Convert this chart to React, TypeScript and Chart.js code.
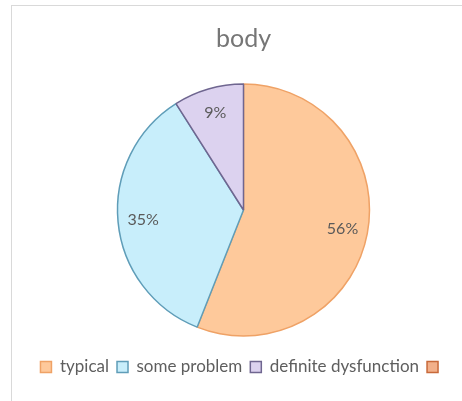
import React, { useEffect, useRef } from "react";
import { Chart, registerables } from "chart.js";

Chart.register(...registerables);

const categories: string[] = ["typical", "some problem", "definite dysfunction", ""];
const values: number[] = [56, 35, 9, 0];
const titleText = "body";

const fillColors = ["#FEC99B", "#C8EEFB", "#DCD2EF", "#F2B08A"];
const borderColors = ["#EFA266", "#5F9DB8", "#6F6690", "#C8693A"];

const pctPlugin = {
  id: "pctLabels",
  afterDatasetsDraw(chart: any) {
    const ctx = chart.ctx;
    const meta = chart.getDatasetMeta(0);
    const data = chart.data.datasets[0].data as number[];
    const total = data.reduce((a, b) => a + b, 0);
    ctx.save();
    ctx.font = "16px Lato";
    ctx.fillStyle = "#5a5a5a";
    ctx.textAlign = "center";
    ctx.textBaseline = "middle";
    meta.data.forEach((arc: any, i: number) => {
      const v = data[i];
      if (!v) return;
      const p = arc.getProps(["x", "y", "startAngle", "endAngle", "outerRadius"], true);
      const mid = (p.startAngle + p.endAngle) / 2;
      const r = p.outerRadius * 0.8;
      ctx.fillText(Math.round((v / total) * 100) + "%", p.x + Math.cos(mid) * r, p.y + Math.sin(mid) * r);
    });
    ctx.restore();
  },
};

export default function App() {
  const ref = useRef<HTMLCanvasElement | null>(null);
  useEffect(() => {
    if (!ref.current) return;
    const chart = new Chart(ref.current, {
      type: "pie",
      data: {
        labels: categories,
        datasets: [
          {
            data: values,
            backgroundColor: fillColors,
            borderColor: borderColors,
            borderWidth: 1.5,
            radius: 126,
          } as any,
        ],
      },
      options: {
        animation: false,
        responsive: false,
        maintainAspectRatio: false,
        layout: { padding: { top: 16, bottom: 15.5, left: 25, right: 0 } },
        plugins: {
          title: {
            display: true,
            text: titleText,
            color: "#767676",
            font: { family: "Lato", size: 25, weight: "normal" },
            padding: { top: 8, bottom: 15.5 },
          },
          legend: {
            display: true,
            position: "bottom",
            labels: {
              color: "#5e5e5e",
              font: { family: "Lato", size: 17 },
              boxWidth: 11,
              boxHeight: 11,
              padding: 8,
            },
          },
          tooltip: { enabled: false },
        },
      },
      plugins: [pctPlugin],
    });
    return () => chart.destroy();
  }, []);

  return (
    <div style={{ position: "absolute", left: 0, top: 0, width: 462, height: 401, overflow: "hidden", background: "#fff" }}>
      <div
        style={{
          position: "absolute",
          left: 11,
          top: 5,
          width: 470,
          height: 420,
          border: "1px solid #d9d9d9",
          boxSizing: "border-box",
        }}
      />
      <canvas ref={ref} width={462} height={401} style={{ position: "absolute", left: 0, top: 0, width: 462, height: 401 }} />
    </div>
  );
}
